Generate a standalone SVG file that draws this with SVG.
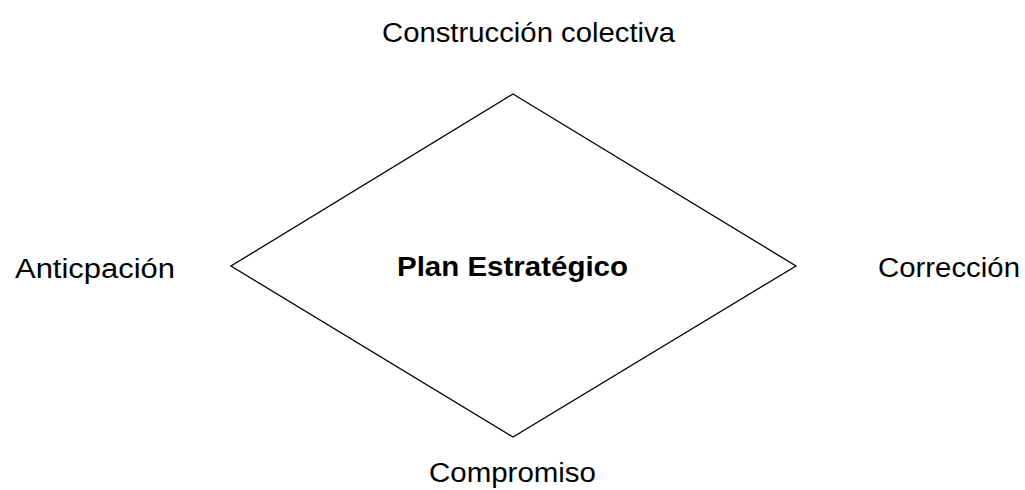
<svg xmlns="http://www.w3.org/2000/svg" width="1025" height="490" viewBox="0 0 1025 490">
<style>
.t{font-family:"Liberation Sans",Arial,sans-serif;font-size:27px;fill:#000}
.b{font-weight:bold}
.d{fill:#fff;stroke:#000;stroke-width:1.3}
</style>
<rect width="1025" height="490" fill="#fff"/>
<g id="plan">
<polygon class="d" points="513,94 796,266 513,437 231,266"/>
<text class="t b" x="397" y="276" textLength="231" lengthAdjust="spacingAndGlyphs">Plan Estratégico</text>
</g>
<g id="construccion"><text class="t" x="382" y="42" textLength="293" lengthAdjust="spacingAndGlyphs">Construcción colectiva</text></g>
<g id="anticipacion"><text class="t" x="15" y="278" textLength="160" lengthAdjust="spacingAndGlyphs">Anticpación</text></g>
<g id="correccion"><text class="t" x="878" y="277" textLength="142" lengthAdjust="spacingAndGlyphs">Corrección</text></g>
<g id="compromiso"><text class="t" x="429" y="482" textLength="167" lengthAdjust="spacingAndGlyphs">Compromiso</text></g>
<g id="connectors"></g>
</svg>
